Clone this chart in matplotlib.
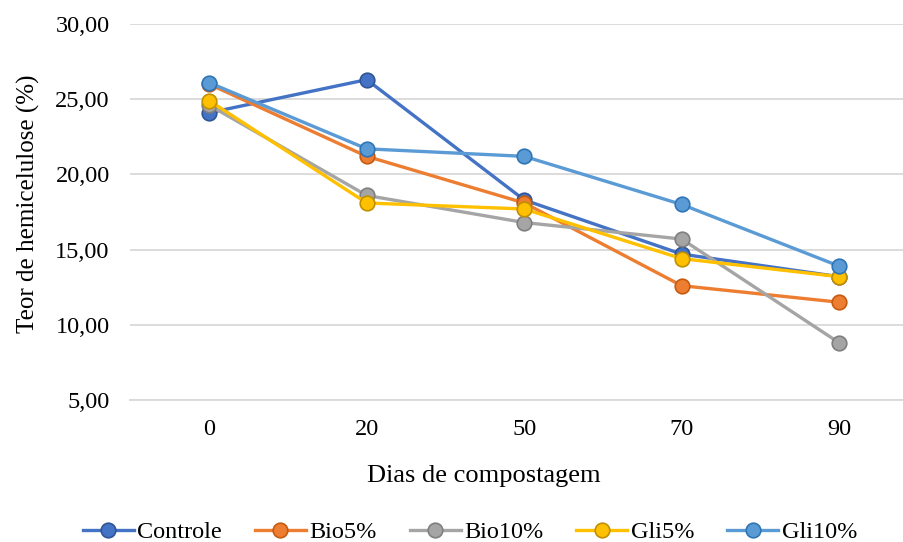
import matplotlib
matplotlib.use("Agg")
import matplotlib.pyplot as plt
from matplotlib.ticker import FuncFormatter

# Hemicellulose content over composting days
dias = ["0", "20", "50", "70", "90"]
controle = [24.1, 26.3, 18.3, 14.7, 13.2]
bio5 = [26.0, 21.2, 18.1, 12.6, 11.5]
bio10 = [24.6, 18.6, 16.8, 15.7, 8.8]
gli5 = [24.9, 18.1, 17.7, 14.4, 13.2]
gli10 = [26.1, 21.7, 21.2, 18.0, 13.9]

series = [
    ("Controle", controle, "#4472C4", "#2F5597"),
    ("Bio5%", bio5, "#ED7D31", "#C55A11"),
    ("Bio10%", bio10, "#A5A5A5", "#7F7F7F"),
    ("Gli5%", gli5, "#FFC000", "#BF9000"),
    ("Gli10%", gli10, "#5B9BD5", "#2E75B6"),
]

plt.rcParams["font.family"] = ["Liberation Serif", "DejaVu Serif"]

fig = plt.figure(figsize=(9.04, 5.42), dpi=100)
ax = fig.add_axes([130.5 / 904, 1 - 400 / 542, 787.5 / 904, 376 / 542])

x = range(len(dias))
for name, vals, color, edge in series:
    ax.plot(x, vals, color=color, linewidth=2.4, marker="o", markersize=10.5,
            markerfacecolor=color, markeredgecolor=edge, markeredgewidth=1.2,
            label=name, zorder=3)

ax.set_xlim(-0.5, 4.5)
ax.set_ylim(5, 30)
ax.set_yticks([5, 10, 15, 20, 25, 30])
ax.yaxis.set_major_formatter(FuncFormatter(lambda v, p: f"{v:.2f}".replace(".", ",")))
ax.set_xticks(list(x))
ax.set_xticklabels(dias)
ax.grid(axis="y", color="#D9D9D9", linewidth=1.3)
ax.set_axisbelow(True)
for s in ["top", "right", "left"]:
    ax.spines[s].set_visible(False)
ax.spines["bottom"].set_color("#D9D9D9")
ax.spines["bottom"].set_linewidth(1.3)
ax.tick_params(length=0, labelsize=17.5, colors="black")
ax.tick_params(axis="y", pad=15)
ax.tick_params(axis="x", pad=14)

fig.text(28 / 904, 1 - 204 / 542, "Teor de hemicelulose (%)", rotation=90,
         ha="center", va="center", fontsize=18)
fig.text(484 / 904, 1 - 476 / 542, "Dias de compostagem", ha="center",
         va="center", fontsize=19)

fig.legend(loc="center", bbox_to_anchor=(470 / 904, 1 - 532 / 542), ncol=5,
           frameon=False, fontsize=17.5, handlelength=2.1, columnspacing=1.35,
           handletextpad=0.15, borderaxespad=0)

fig.savefig("out.png", dpi=100)
